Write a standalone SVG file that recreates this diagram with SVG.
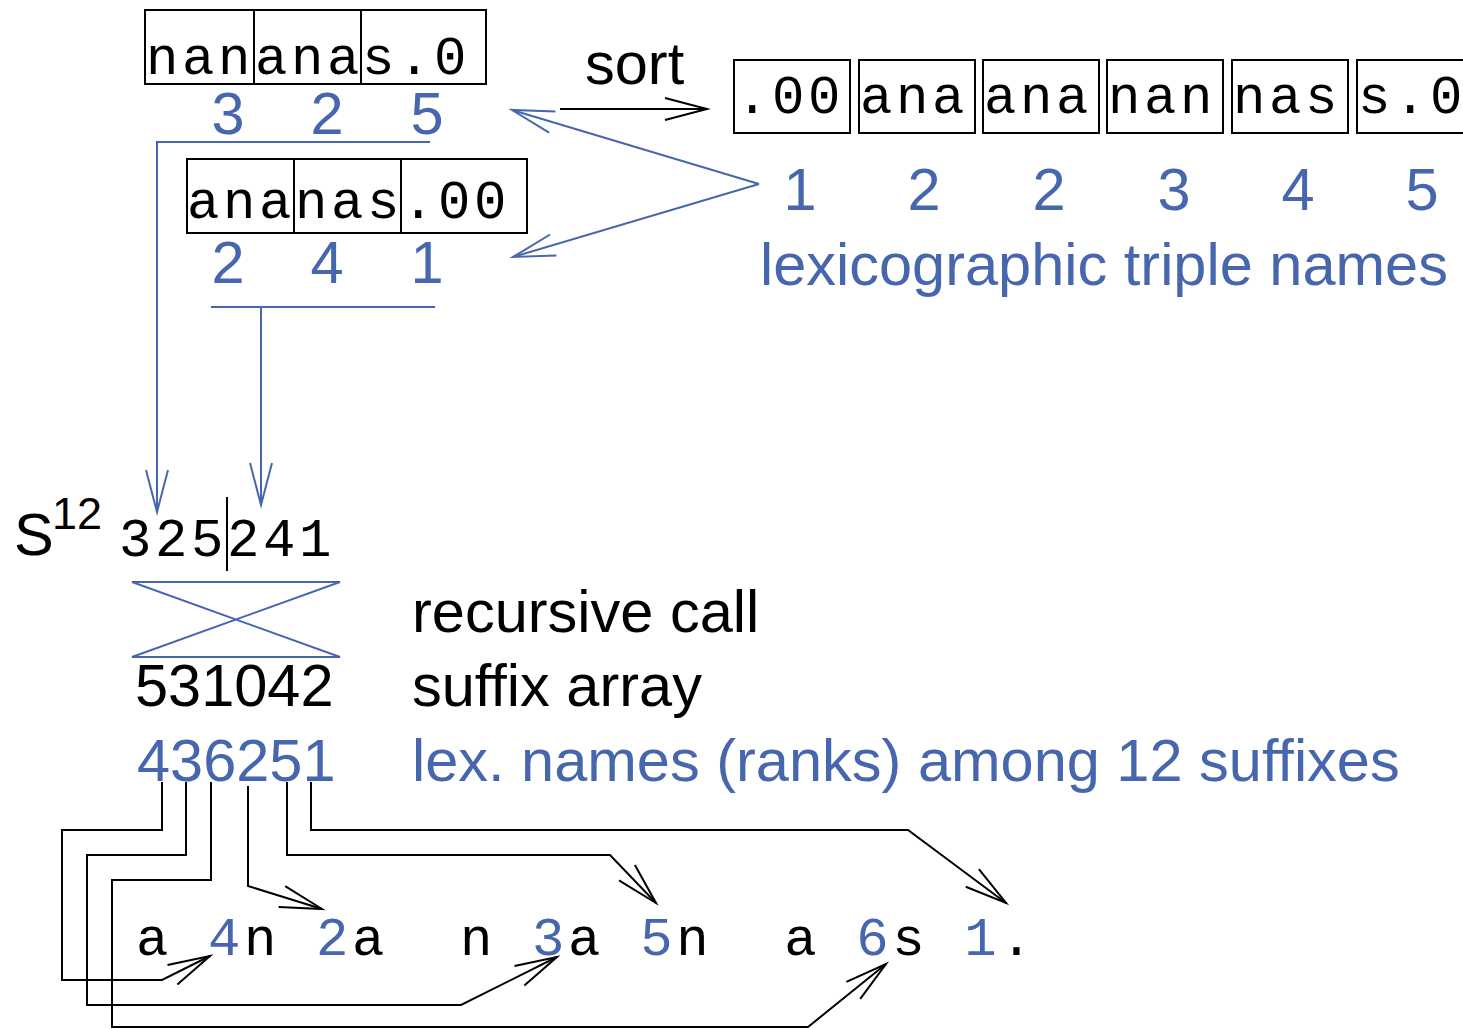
<svg xmlns="http://www.w3.org/2000/svg" width="1463" height="1029" viewBox="0 0 1463 1029">
<defs>
<style>
.box{fill:none;stroke:#000;stroke-width:2}
.mono{font-family:"Liberation Mono","Courier New",monospace;font-size:54px;letter-spacing:3.6px;fill:#000}
.sans{font-family:"Liberation Sans",Arial,sans-serif;font-size:59.5px;fill:#000}
.blue{fill:#4666ae}
.bl{fill:none;stroke:#4666ae;stroke-width:2}
.bk{fill:none;stroke:#000;stroke-width:2}
.mid{text-anchor:middle}
</style>
<marker id="ak" markerUnits="userSpaceOnUse" markerWidth="60" markerHeight="40" viewBox="-50 -20 60 40" refX="0" refY="0" orient="auto" overflow="visible"><path d="M-42,-11 L0,0 L-42,11" fill="none" stroke="#000" stroke-width="2"/></marker>
<marker id="ab" markerUnits="userSpaceOnUse" markerWidth="60" markerHeight="40" viewBox="-50 -20 60 40" refX="0" refY="0" orient="auto" overflow="visible"><path d="M-42,-11 L0,0 L-42,11" fill="none" stroke="#4666ae" stroke-width="2"/></marker>
</defs>
<rect width="1463" height="1029" fill="#fff"/>

<g id="triples1">
<rect x="145" y="10" width="341" height="74" class="box"/>
<line x1="254" y1="10" x2="254" y2="84" class="bk"/>
<line x1="361" y1="10" x2="361" y2="84" class="bk"/>
<text class="mono" x="146" y="74">nan</text>
<text class="mono" x="255" y="74">ana</text>
<text class="mono" x="362" y="74">s.0</text>
<text class="sans blue mid" x="228" y="134">3</text>
<text class="sans blue mid" x="327" y="134">2</text>
<text class="sans blue mid" x="427" y="134">5</text>
</g>

<g id="triples2">
<rect x="187" y="159" width="340" height="74" class="box"/>
<line x1="294" y1="159" x2="294" y2="233" class="bk"/>
<line x1="401" y1="159" x2="401" y2="233" class="bk"/>
<text class="mono" x="187" y="218">ana</text>
<text class="mono" x="295" y="218">nas</text>
<text class="mono" x="402" y="218">.00</text>
<text class="sans blue mid" x="228" y="283">2</text>
<text class="sans blue mid" x="327" y="283">4</text>
<text class="sans blue mid" x="427" y="283">1</text>
</g>

<g id="sort-label">
<text class="sans" x="585" y="84">sort</text>
</g>

<g id="sorted">
<rect x="734" y="60" width="116" height="73" class="box"/>
<rect x="859" y="60" width="116" height="73" class="box"/>
<rect x="983" y="60" width="116" height="73" class="box"/>
<rect x="1107" y="60" width="116" height="73" class="box"/>
<rect x="1232" y="60" width="116" height="73" class="box"/>
<rect x="1357" y="60" width="116" height="73" class="box"/>
<text class="mono" x="736" y="113">.00</text>
<text class="mono" x="860" y="113">ana</text>
<text class="mono" x="984" y="113">ana</text>
<text class="mono" x="1108" y="113">nan</text>
<text class="mono" x="1233" y="113">nas</text>
<text class="mono" x="1358" y="113">s.0</text>
<text class="sans blue mid" x="800" y="210">1</text>
<text class="sans blue mid" x="924" y="210">2</text>
<text class="sans blue mid" x="1049" y="210">2</text>
<text class="sans blue mid" x="1174" y="210">3</text>
<text class="sans blue mid" x="1298" y="210">4</text>
<text class="sans blue mid" x="1422" y="210">5</text>
<text class="sans blue" x="760" y="285">lexicographic triple names</text>
</g>

<g id="s12">
<text class="sans" x="14" y="555">S</text>
<text class="sans" x="52" y="529" style="font-size:45px">12</text>
<text class="mono" x="119" y="556">325241</text>
<line x1="227" y1="497" x2="227" y2="571" class="bk"/>
</g>

<g id="recursion">
<polygon points="132,582 340,582 132,657 340,657" class="bl"/>
<text class="sans" x="412" y="632">recursive call</text>
</g>

<g id="suffix-array">
<text class="sans" x="135" y="706">531042</text>
<text class="sans" x="412" y="706">suffix array</text>
</g>

<g id="ranks">
<text class="sans blue" x="137" y="781">436251</text>
<text class="sans blue" x="412" y="781">lex. names (ranks) among 12 suffixes</text>
</g>

<g id="text-row">
<text class="mono" x="136" y="955" xml:space="preserve" style="white-space:pre">a <tspan class="blue">4</tspan>n <tspan class="blue">2</tspan>a  n <tspan class="blue">3</tspan>a <tspan class="blue">5</tspan>n  a <tspan class="blue">6</tspan>s <tspan class="blue">1</tspan>.</text>
</g>

<g id="connectors">
<path d="M560,109 H707" class="bk" marker-end="url(#ak)"/>
<path d="M759,184 L512,110" class="bl" marker-end="url(#ab)"/>
<path d="M759,184 L513,257" class="bl" marker-end="url(#ab)"/>
<path d="M430,142 H157 V512" class="bl" marker-end="url(#ab)"/>
<path d="M211,307 H435" class="bl"/>
<path d="M261,307 V505" class="bl" marker-end="url(#ab)"/>
<path d="M162,782 V830 H62 V980 H162 L210,956" class="bk" marker-end="url(#ak)"/>
<path d="M186,782 V855 H87 V1005 H461 L557,957" class="bk" marker-end="url(#ak)"/>
<path d="M211,782 V880 H112 V1027 H808 L886,964" class="bk" marker-end="url(#ak)"/>
<path d="M248,786 V886 L322,909" class="bk" marker-end="url(#ak)"/>
<path d="M287,782 V855 H610 L656,903" class="bk" marker-end="url(#ak)"/>
<path d="M311,782 V830 H908 L1006,903" class="bk" marker-end="url(#ak)"/>
</g>
</svg>
